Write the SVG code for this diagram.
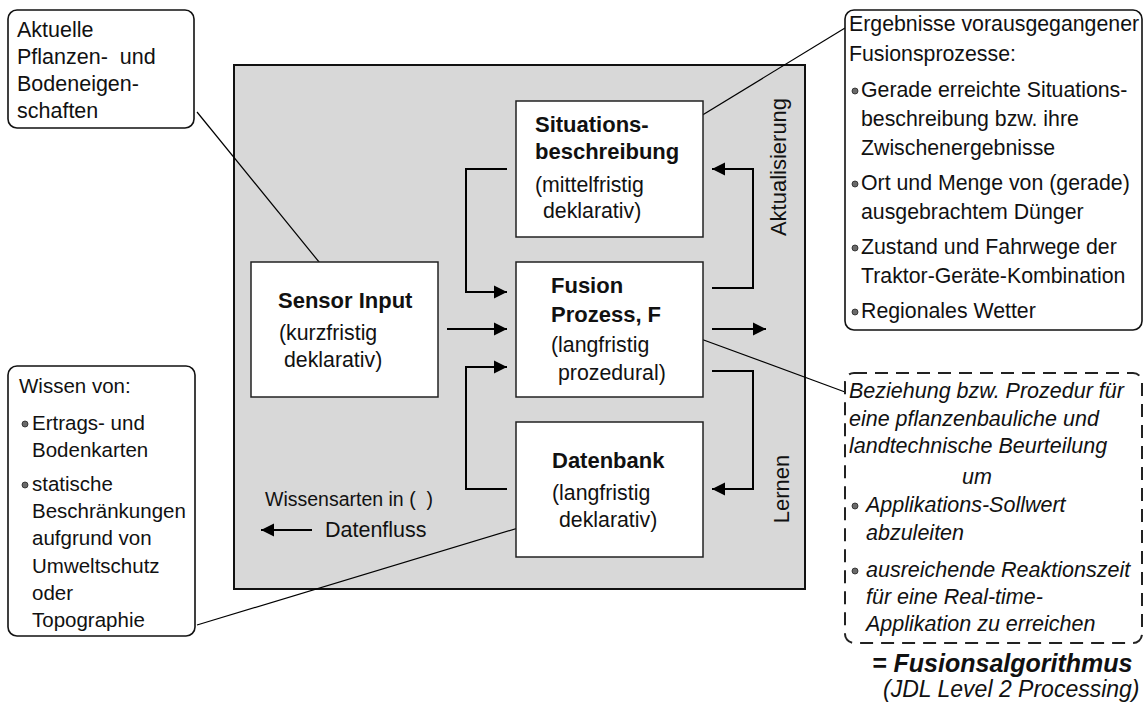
<svg xmlns="http://www.w3.org/2000/svg" width="1146" height="702" viewBox="0 0 1146 702">
<defs>
<style>
.t{font-family:"Liberation Sans",Arial,sans-serif;font-size:21.3px;fill:#111}
.b{font-family:"Liberation Sans",Arial,sans-serif;font-size:22px;font-weight:bold;fill:#111}
.i{font-family:"Liberation Sans",Arial,sans-serif;font-size:21.5px;font-style:italic;fill:#111}
.box{fill:#fff;stroke:#222;stroke-width:1.5}
.call{fill:#fff;stroke:#111;stroke-width:1.6}
.con{fill:none;stroke:#000;stroke-width:2}
.lead{fill:none;stroke:#000;stroke-width:1.2}
.dot{fill:#6a6a6a;stroke:#222;stroke-width:0.8}
</style>
<marker id="ah" markerUnits="userSpaceOnUse" markerWidth="14" markerHeight="14" refX="13" refY="7" orient="auto">
<path d="M0,0.5 L13,7 L0,13.5 z" fill="#000"/>
</marker>
</defs>
<rect width="1146" height="702" fill="#fff"/>

<g id="container">
<rect x="234" y="65" width="571" height="524" fill="#d8d8d8" stroke="#111" stroke-width="2"/>
<text class="t" transform="translate(786,167) rotate(-90)" text-anchor="middle" style="font-size:22px">Aktualisierung</text>
<text class="t" transform="translate(789,489) rotate(-90)" text-anchor="middle" style="font-size:22px">Lernen</text>
<text class="t" x="265" y="506" style="font-size:19.5px">Wissensarten in (&#160; )</text>
<text class="t" x="325" y="537" style="font-size:21.5px">Datenfluss</text>
</g>

<g id="connectors">
<path class="con" d="M507,169 H466 V292 H507" marker-end="url(#ah)"/>
<path class="con" d="M447,329 H507" marker-end="url(#ah)"/>
<path class="con" d="M507,489 H466 V367 H507" marker-end="url(#ah)"/>
<path class="con" d="M712,288 H753 V169 H712" marker-end="url(#ah)"/>
<path class="con" d="M712,329 H766" marker-end="url(#ah)"/>
<path class="con" d="M712,371 H753 V489 H712" marker-end="url(#ah)"/>
<path class="con" d="M312,530 H261" marker-end="url(#ah)"/>
<path class="lead" d="M197,112 L328,273"/>
<path class="lead" d="M845,28 L691,122"/>
<path class="lead" d="M690,335 L845,392"/>
<path class="lead" d="M197,625 L528,525"/>
</g>

<g id="situation">
<rect class="box" x="516" y="101" width="187" height="136"/>
<text class="b" x="535" y="132">Situations-</text>
<text class="b" x="535" y="159">beschreibung</text>
<text class="t" x="535" y="192">(mittelfristig</text>
<text class="t" x="543" y="218">deklarativ)</text>
</g>

<g id="sensor">
<rect class="box" x="251" y="262" width="187" height="135"/>
<text class="b" x="278" y="308">Sensor Input</text>
<text class="t" x="279" y="340">(kurzfristig</text>
<text class="t" x="284" y="367">deklarativ)</text>
</g>

<g id="fusion">
<rect class="box" x="516" y="262" width="187" height="135"/>
<text class="b" x="551" y="293">Fusion</text>
<text class="b" x="551" y="322">Prozess, F</text>
<text class="t" x="551" y="352">(langfristig</text>
<text class="t" x="558" y="380">prozedural)</text>
</g>

<g id="datenbank">
<rect class="box" x="516" y="422" width="187" height="135"/>
<text class="b" x="552" y="468">Datenbank</text>
<text class="t" x="552" y="500">(langfristig</text>
<text class="t" x="559" y="527">deklarativ)</text>
</g>

<g id="callout-pflanzen">
<rect class="call" x="8" y="10" width="186" height="118" rx="9"/>
<text class="t" x="17" y="37" style="font-size:21.5px">Aktuelle</text>
<text class="t" x="17" y="64" style="font-size:21.5px">Pflanzen-&#160; und</text>
<text class="t" x="17" y="91" style="font-size:21.5px">Bodeneigen-</text>
<text class="t" x="17" y="118" style="font-size:21.5px">schaften</text>
</g>

<g id="callout-wissen">
<rect class="call" x="8" y="366" width="187" height="270" rx="9"/>
<text class="t" x="19" y="393" style="font-size:20.5px">Wissen von:</text>
<circle class="dot" cx="25" cy="424" r="3"/>
<text class="t" x="32" y="430" style="font-size:20.5px">Ertrags- und</text>
<text class="t" x="32" y="457" style="font-size:20.5px">Bodenkarten</text>
<circle class="dot" cx="25" cy="485" r="3"/>
<text class="t" x="32" y="491" style="font-size:20.5px">statische</text>
<text class="t" x="32" y="518" style="font-size:20.5px">Beschränkungen</text>
<text class="t" x="32" y="545" style="font-size:20.5px">aufgrund von</text>
<text class="t" x="32" y="573" style="font-size:20.5px">Umweltschutz</text>
<text class="t" x="32" y="600" style="font-size:20.5px">oder</text>
<text class="t" x="32" y="627" style="font-size:20.5px">Topographie</text>
</g>

<g id="callout-ergebnisse">
<rect class="call" x="845" y="10" width="297" height="320" rx="9"/>
<text class="t" x="849" y="31">Ergebnisse vorausgegangener</text>
<text class="t" x="849" y="61">Fusionsprozesse:</text>
<circle class="dot" cx="855" cy="91" r="3"/>
<text class="t" x="861" y="97">Gerade erreichte Situations-</text>
<text class="t" x="861" y="126">beschreibung bzw. ihre</text>
<text class="t" x="861" y="155">Zwischenergebnisse</text>
<circle class="dot" cx="855" cy="184" r="3"/>
<text class="t" x="861" y="190">Ort und Menge von (gerade)</text>
<text class="t" x="861" y="219">ausgebrachtem Dünger</text>
<circle class="dot" cx="855" cy="248" r="3"/>
<text class="t" x="861" y="254">Zustand und Fahrwege der</text>
<text class="t" x="861" y="283">Traktor-Geräte-Kombination</text>
<circle class="dot" cx="855" cy="312" r="3"/>
<text class="t" x="861" y="318">Regionales Wetter</text>
</g>

<g id="callout-beziehung">
<rect x="845" y="373" width="297" height="270" rx="9" fill="#fff" stroke="#222" stroke-width="2" stroke-dasharray="13,8"/>
<text class="i" x="849" y="398">Beziehung bzw. Prozedur für</text>
<text class="i" x="849" y="426">eine pflanzenbauliche und</text>
<text class="i" x="849" y="453">landtechnische Beurteilung</text>
<text class="i" x="962" y="484">um</text>
<circle class="dot" cx="855" cy="506" r="3"/>
<text class="i" x="866" y="512">Applikations-Sollwert</text>
<text class="i" x="866" y="540">abzuleiten</text>
<circle class="dot" cx="855" cy="571" r="3"/>
<text class="i" x="866" y="577">ausreichende Reaktionszeit</text>
<text class="i" x="866" y="604">für eine Real-time-</text>
<text class="i" x="866" y="631">Applikation zu erreichen</text>
</g>

<g id="fusionsalgorithmus">
<text class="i" x="872" y="672" style="font-size:25px;font-weight:bold">= Fusionsalgorithmus</text>
<text class="i" x="883" y="697" style="font-size:23px">(JDL Level 2 Processing)</text>
</g>
</svg>
